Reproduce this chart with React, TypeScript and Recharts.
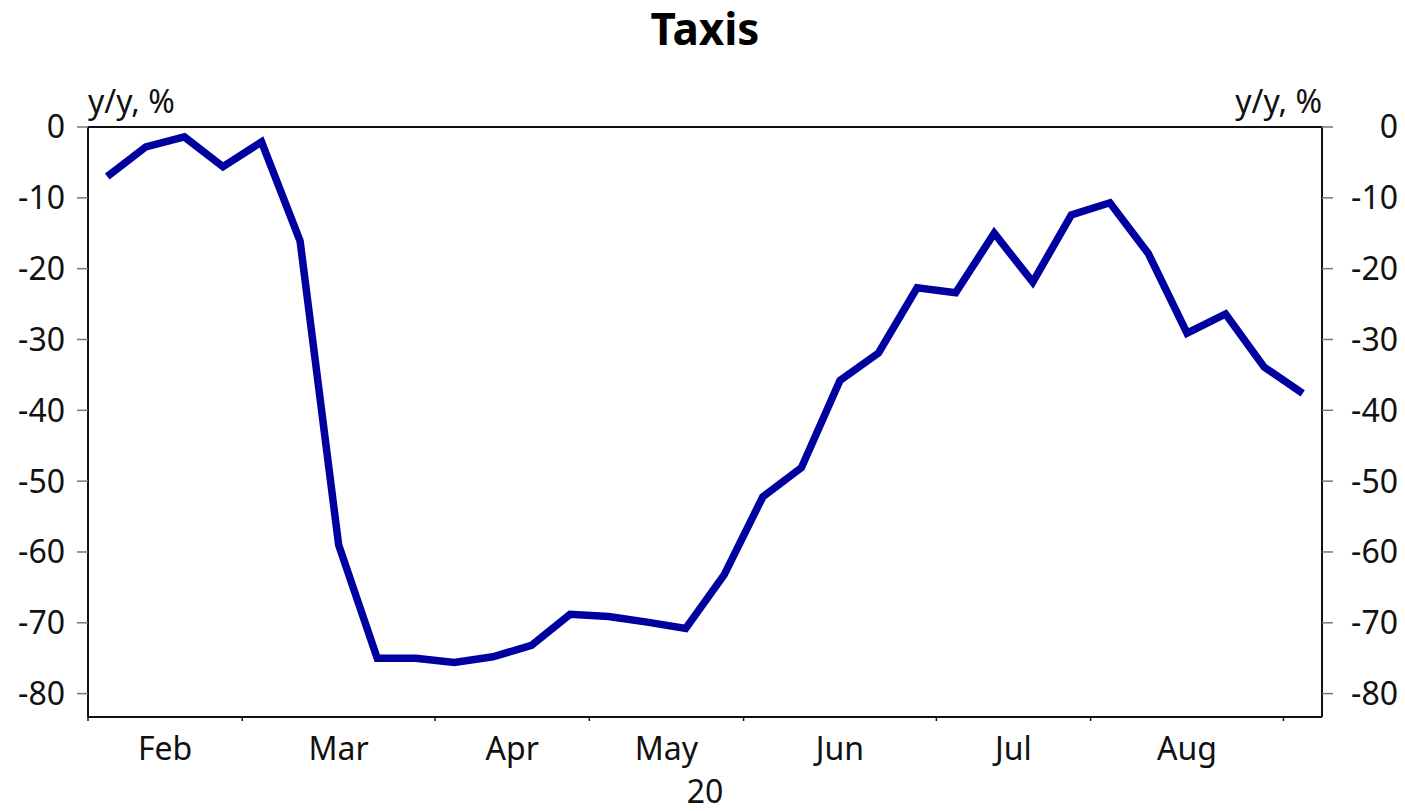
import React from 'react';
import { LineChart, Line, XAxis, YAxis, CartesianGrid, ReferenceLine, Label } from 'recharts';

// Weekly y/y change in taxi activity, 2020 (32 weeks, Feb–Aug)
const values: number[] = [
  -7.0, -2.8, -1.4, -5.6, -2.1, -16.1, -59.0, -75.0, -75.0, -75.6, -74.8, -73.2,
  -68.8, -69.1, -69.9, -70.8, -63.2, -52.2, -48.1, -35.8, -31.9, -22.7, -23.4,
  -15.0, -21.9, -12.4, -10.7, -17.9, -29.1, -26.4, -33.9, -37.6,
];
// week index at which each month starts (tick boundaries)
const monthStarts: number[] = [0, 4, 9, 13, 17, 22, 26, 31];
const monthLabels: string[] = ['Feb', 'Mar', 'Apr', 'May', 'Jun', 'Jul', 'Aug'];
const yTicks: number[] = [0, -10, -20, -30, -40, -50, -60, -70, -80];
const yearLabel = '20';
const unitLabel = 'y/y, %';
const title = 'Taxis';

const data = values.map((v, i) => ({ x: i + 0.5, v }));
const monthMids = monthLabels.map((_, i) => (monthStarts[i] + monthStarts[i + 1]) / 2);
const midToLabel: Record<string, string> = {};
monthMids.forEach((m, i) => { midToLabel[String(m)] = monthLabels[i]; });

const FONT = '"Noto Sans", "Open Sans", sans-serif';
const TXT = '#111';

const MonthTick = (props: any) => {
  const { x, y, payload } = props;
  return (
    <text x={x} y={y} dy={37} textAnchor="middle" fontFamily={FONT} fontSize={32} fill={TXT}>
      {midToLabel[String(payload.value)]}
    </text>
  );
};

const RightTick = (props: any) => {
  const { x, y, payload } = props;
  return (
    <text x={x + 63} y={y} dy="0.355em" textAnchor="end" fontFamily={FONT} fontSize={32} fill={TXT}>
      {payload.value}
    </text>
  );
};

export default function App() {
  return (
    <div style={{ position: 'absolute', left: 0, top: 0, width: 1405, height: 811, background: '#fff' }}>
      <div
        style={{
          position: 'absolute', left: 0, top: 6, width: 1410, textAlign: 'center',
          fontFamily: FONT, fontWeight: 700, fontSize: 44, lineHeight: 1, color: '#000',
        }}
      >
        {title}
      </div>
      <LineChart width={1405} height={811} data={data} margin={{ top: 127, right: 0, left: 0, bottom: 0 }}>
        <CartesianGrid horizontal vertical={false} stroke="#cfcfcf" strokeWidth={1.2} />
        <XAxis
          xAxisId="b"
          dataKey="x"
          type="number"
          domain={[0, 32]}
          ticks={monthStarts}
          allowDataOverflow
          height={6}
          tick={() => <g />}
          tickSize={4}
          axisLine={{ stroke: '#111', strokeWidth: 2 }}
          tickLine={{ stroke: '#111', strokeWidth: 1.5 }}
        />
        <XAxis
          xAxisId="m"
          dataKey="x"
          type="number"
          domain={[0, 32]}
          ticks={monthMids}
          allowDataOverflow
          height={88}
          axisLine={false}
          tickLine={false}
          tickSize={0}
          tickMargin={0}
          tick={<MonthTick />}
          interval={0}
        >
          <Label
            content={(p: any) => {
              const vb = p.viewBox;
              return (
                <text x={vb.x + vb.width / 2} y={803} textAnchor="middle" fontFamily={FONT} fontSize={32} fill={TXT}>
                  {yearLabel}
                </text>
              );
            }}
          />
        </XAxis>
        <YAxis
          yAxisId="l"
          domain={[-83.3, 0]}
          ticks={yTicks}
          allowDataOverflow
          width={88}
          interval={0}
          tickSize={11}
          tickMargin={12}
          axisLine={{ stroke: '#111', strokeWidth: 2 }}
          tickLine={{ stroke: '#777', strokeWidth: 1.5 }}
          tick={{ fontFamily: FONT, fontSize: 32, fill: TXT }}
        >
          <Label
            content={(p: any) => {
              const vb = p.viewBox;
              return (
                <text x={vb.x + vb.width} y={113} textAnchor="start" fontFamily={FONT} fontSize={32} fill={TXT}>
                  {unitLabel}
                </text>
              );
            }}
          />
        </YAxis>
        <YAxis
          yAxisId="r"
          orientation="right"
          domain={[-83.3, 0]}
          ticks={yTicks}
          allowDataOverflow
          width={83}
          interval={0}
          tickSize={11}
          tickMargin={2}
          axisLine={{ stroke: '#111', strokeWidth: 2 }}
          tickLine={{ stroke: '#777', strokeWidth: 1.5 }}
          tick={<RightTick />}
        >
          <Label
            content={(p: any) => {
              const vb = p.viewBox;
              return (
                <text x={vb.x} y={113} textAnchor="end" fontFamily={FONT} fontSize={32} fill={TXT}>
                  {unitLabel}
                </text>
              );
            }}
          />
        </YAxis>
        <ReferenceLine yAxisId="l" xAxisId="b" y={0} stroke="#111" strokeWidth={2} />
        <Line
          xAxisId="b"
          yAxisId="l"
          type="linear"
          dataKey="v"
          stroke="#0000a0"
          strokeWidth={7.5}
          dot={false}
          isAnimationActive={false}
          strokeLinejoin="miter"
        />
      </LineChart>
    </div>
  );
}
